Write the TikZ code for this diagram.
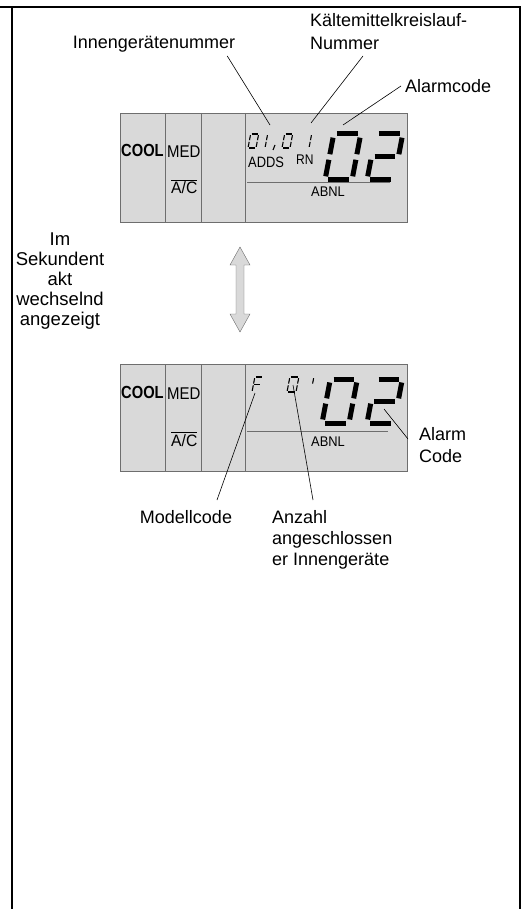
\documentclass[tikz,border=0pt]{standalone}
\usepackage{fontspec}
\setmainfont{Liberation Sans}
\usetikzlibrary{calc}
\definecolor{ink}{HTML}{000000}
\definecolor{lcd}{HTML}{D9D9D9}
\definecolor{rim}{HTML}{6E6E6E}

% ends of the seven segments in a unit digit (the scope slants it)
\def\segA{(.12,1)--(.88,1)}
\def\segB{(1,.92)--(1,.56)}
\def\segC{(1,.44)--(1,.08)}
\def\segD{(.12,0)--(.88,0)}
\def\segE{(0,.44)--(0,.08)}
\def\segF{(0,.92)--(0,.56)}
\def\segG{(.12,.5)--(.88,.5)}
\newcommand\lcddigit[6]{%
  \begin{scope}[shift={(#1,#2)},x={(#3pt,0pt)},y={(0.19*#4pt,#4pt)}]
    \foreach \s in {#6} \draw[ink,line width=#5] \csname seg\s\endcsname;
  \end{scope}}
% narrow lettering of the display
\newcommand\lcdword[3]{\fontsize{#1}{#1}\selectfont\scalebox{#2}[1]{#3}}

\begin{document}
\begin{tikzpicture}[x=1pt,y=-1pt,text=ink,
  lbl/.style={font=\fontsize{18}{20}\selectfont,inner sep=0pt},
  lcdtxt/.style={inner sep=0pt,anchor=base west},
  leader/.style={draw=ink,line width=.6pt},
  frame/.style={draw=ink,line width=2pt}]
  \useasboundingbox (0,0) rectangle (523,909);

  \draw[frame] (0,7) -- (520,7) -- (520,909);
  \draw[frame] (12,7) -- (12,909);

  % first display
  \draw[fill=lcd,draw=rim] (120,113) rectangle (407,222);
  \draw[rim] (165,113) -- (165,222);
  \draw[rim] (201,113) -- (201,222);
  \draw[rim] (245,113) -- (245,222);
  \node[lcdtxt,font=\bfseries] (cool1) at (121,157) {\lcdword{17.5}{.84}{COOL}};
  \node[lcdtxt] (med1) at (167,158) {\lcdword{17}{.88}{MED}};
  \node[lcdtxt] (ac1) at (171,194) {$\overline{\mbox{\lcdword{16.5}{.95}{A/C}}}$};
  \node[lcdtxt] (adds1) at (248,168) {\lcdword{15}{.86}{ADDS}};
  \node[lcdtxt] (rn1) at (296,165) {\lcdword{14}{.86}{RN}};
  \node[lcdtxt] (abnl1) at (311,197) {\lcdword{14}{.92}{ABNL}};
  \draw[rim] (247,182) -- (390,182);
  \lcddigit{248}{148}{8}{14}{1.1pt}{A,B,C,D,E,F}
  \lcddigit{257}{148}{8}{14}{1.1pt}{B,C}
  \draw[ink,line width=1.1pt] (275,145) -- (273,150);
  \lcddigit{282}{148}{8}{14}{1.1pt}{A,B,C,D,E,F}
  \lcddigit{301}{148}{8}{14}{1.1pt}{B,C}
  \lcddigit{325}{180}{27}{46}{5pt}{A,B,C,D,E,F}
  \lcddigit{367}{180}{27}{46}{5pt}{A,B,G,E,D}
  \coordinate (pInr) at (270,125);
  \coordinate (pKrl) at (311,123);
  \coordinate (pAlm) at (343,125);

  \node[lbl,anchor=base] (inr) at (154,49) {Innengerätenummer};
  \node[lbl,anchor=base west,align=left,font=\fontsize{18}{23}\selectfont] (krl) at (310,50)
    {Kältemittelkreislauf-\\Nummer};
  \node[lbl,anchor=base west] (alm) at (405,93) {Alarmcode};
  \draw[leader] ([xshift=-8pt,yshift=-7pt]inr.base east) -- (pInr);
  \draw[leader] ([xshift=53pt,yshift=-6pt]krl.base west) -- (pKrl);
  \draw[leader] ([xshift=-4pt,yshift=7pt]alm.base west) -- (pAlm);

  % toggling
  \node[lbl,anchor=base,align=center,font=\fontsize{18.5}{20}\selectfont] (sek) at (60,325)
    {Im\\Sekundent\\akt\\wechselnd\\angezeigt};
  \draw[fill=lcd,draw=rim] (240,247) -- (250,265) -- (244,265) -- (244,314) -- (250,314)
    -- (240,332) -- (230,314) -- (236,314) -- (236,265) -- (230,265) -- cycle;

  % second display
  \draw[fill=lcd,draw=rim] (120,364) rectangle (407,471);
  \draw[rim] (165,364) -- (165,471);
  \draw[rim] (201,364) -- (201,471);
  \draw[rim] (245,364) -- (245,471);
  \node[lcdtxt,font=\bfseries] (cool2) at (121,398) {\lcdword{17.5}{.84}{COOL}};
  \node[lcdtxt] (med2) at (167,399) {\lcdword{17}{.88}{MED}};
  \node[lcdtxt] (ac2) at (171,446) {$\overline{\mbox{\lcdword{16.5}{.95}{A/C}}}$};
  \node[lcdtxt] (abnl2) at (311,446) {\lcdword{14}{.92}{ABNL}};
  \draw[rim] (247,431) -- (388,431);
  \lcddigit{252}{392}{8}{15}{1.1pt}{A,F,E,G}
  \lcddigit{287}{392}{9}{15}{1.1pt}{A,B,C,D,E,F}
  \lcddigit{303}{392}{8}{15}{1.1pt}{B}
  \lcddigit{322}{423}{27}{44}{5pt}{A,B,C,D,E,F}
  \lcddigit{367}{423}{27}{44}{5pt}{A,B,G,E,D}
  \coordinate (pMdl) at (255,393);
  \coordinate (pAnz) at (293,385);
  \coordinate (pAlc) at (384,409);

  \node[lbl,anchor=base] (mdl) at (186,523) {Modellcode};
  \node[lbl,anchor=base west,align=left,font=\fontsize{18}{21}\selectfont] (anz) at (272,565)
    {Anzahl\\angeschlossen\\er Innengeräte};
  \node[lbl,anchor=base west,align=left,font=\fontsize{18}{22}\selectfont] (alc) at (419,462)
    {Alarm\\Code};
  \draw[leader] ([xshift=31pt,yshift=23pt]mdl.base) -- (pMdl);
  \draw[leader] ([xshift=41pt,yshift=65pt]anz.base west) -- (pAnz);
  \draw[leader] ([xshift=-11pt,yshift=23pt]alc.base west) -- (pAlc);
\end{tikzpicture}
\end{document}
